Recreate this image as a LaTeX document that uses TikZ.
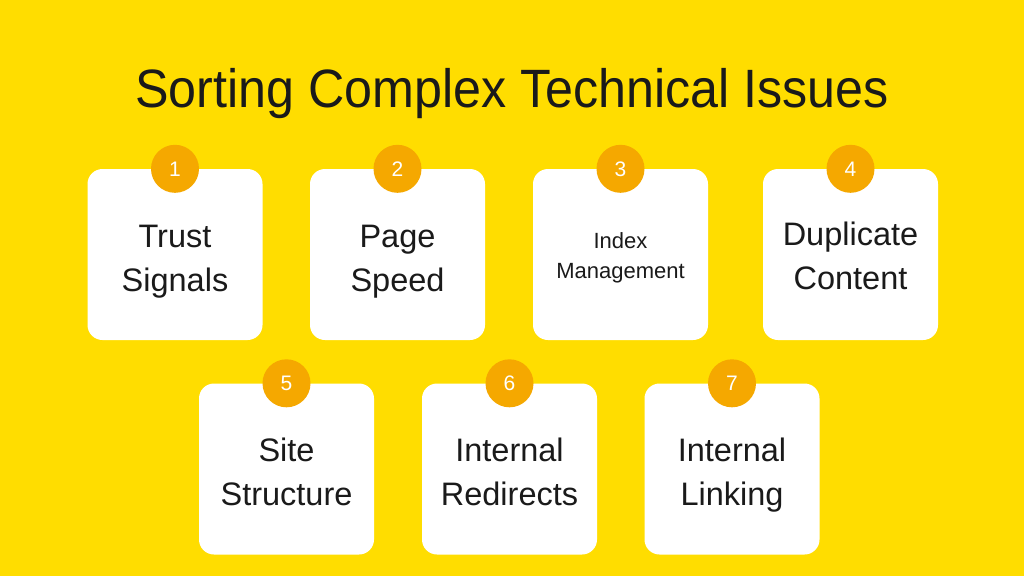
\documentclass[tikz,border=0pt]{standalone}
\usepackage{fontspec}
\setmainfont{Liberation Sans}
\newfontfamily\titlefont[FakeStretch=0.93]{Liberation Sans}
\definecolor{bgyellow}{HTML}{FFDD00}
\definecolor{badge}{HTML}{F5A800}
\definecolor{ink}{HTML}{1A1A1A}
\tikzset{
  card/.style={fill=white, draw=none, rounded corners=15pt, minimum width=175pt, minimum height=171pt, inner sep=0pt},
  badgecircle/.style={circle, fill=badge, draw=none, minimum size=48pt, inner sep=0pt, text=white, font=\fontsize{21pt}{24pt}\selectfont},
  bigtext/.style={align=center, text=ink, text depth=0pt, inner sep=0pt, font=\fontsize{32.5pt}{44pt}\selectfont},
  smalltext/.style={align=center, text=ink, text depth=0pt, inner sep=0pt, font=\fontsize{22pt}{30pt}\selectfont},
}
\begin{document}
\begin{tikzpicture}[x=1pt,y=-1pt]
\fill[bgyellow] (0,0) rectangle (1024,576);
\useasboundingbox (0,0) rectangle (1024,576);
\node[text=ink, inner sep=0pt, anchor=base, font=\titlefont\fontsize{54pt}{60pt}\selectfont] (title) at (512,107) {Sorting Complex Technical Issues};
% row 1
\node[card] (c1) at (175,254.5) {};
\node[card] (c2) at (397.5,254.5) {};
\node[card] (c3) at (620.5,254.5) {};
\node[card] (c4) at (850.5,254.5) {};
% row 2
\node[card] (c5) at (286.5,469) {};
\node[card] (c6) at (509.5,469) {};
\node[card] (c7) at (732,469) {};
% badges
\node[badgecircle] (b1) at (c1.north) {1};
\node[badgecircle] (b2) at (c2.north) {2};
\node[badgecircle] (b3) at (c3.north) {3};
\node[badgecircle] (b4) at (c4.north) {4};
\node[badgecircle] (b5) at (c5.north) {5};
\node[badgecircle] (b6) at (c6.north) {6};
\node[badgecircle] (b7) at (c7.north) {7};
% labels
\node[bigtext] (t1) at ([yshift=-3.5pt]c1.center) {Trust\\Signals};
\node[bigtext] (t2) at ([yshift=-3.5pt]c2.center) {Page\\Speed};
\node[smalltext] (t3) at ([yshift=-1.5pt]c3.center) {Index\\Management};
\node[bigtext] (t4) at ([yshift=-1.5pt]c4.center) {Duplicate\\Content};
\node[bigtext] (t5) at ([yshift=-2.5pt]c5.center) {Site\\Structure};
\node[bigtext] (t6) at ([yshift=-2.5pt]c6.center) {Internal\\Redirects};
\node[bigtext] (t7) at ([yshift=-2.5pt]c7.center) {Internal\\Linking};
\end{tikzpicture}
\end{document}
